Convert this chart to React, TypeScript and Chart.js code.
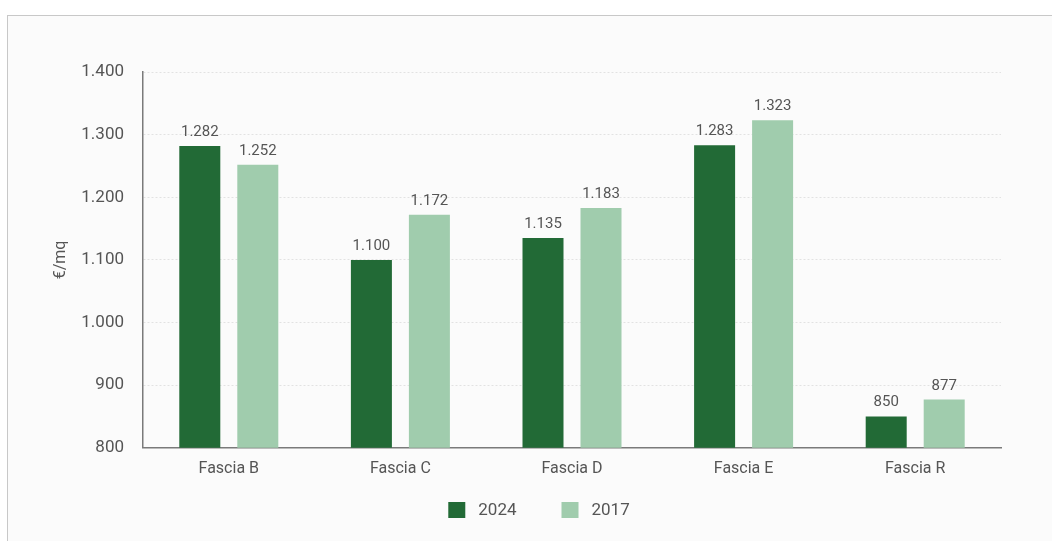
import React, { useEffect, useRef } from "react";
import { Chart, registerables } from "chart.js";

Chart.register(...registerables);

const categories = ["Fascia B", "Fascia C", "Fascia D", "Fascia E", "Fascia R"];
const values2024 = [1282, 1100, 1135, 1283, 850];
const values2017 = [1252, 1172, 1183, 1323, 877];
const seriesLabels = ["2024", "2017"];
const yTicks = [800, 900, 1000, 1100, 1200, 1300, 1400];
const yTitle = "€/mq";

const DARK = "#226a36";
const LIGHT = "#a0ccad";
const TEXT = "#555555";
const FONT = "Roboto, 'Liberation Sans', sans-serif";

const fmt = (v: number) => String(Math.round(v)).replace(/\B(?=(\d{3})+(?!\d))/g, ".");

const valueLabels = {
  id: "valueLabels",
  afterDatasetsDraw(chart: any) {
    const ctx = chart.ctx;
    ctx.save();
    ctx.font = `15px ${FONT}`;
    ctx.fillStyle = TEXT;
    ctx.textAlign = "center";
    ctx.textBaseline = "alphabetic";
    chart.data.datasets.forEach((ds: any, i: number) => {
      const meta = chart.getDatasetMeta(i);
      meta.data.forEach((el: any, j: number) => {
        ctx.fillText(fmt(ds.data[j]), el.x, el.y - 10);
      });
    });
    ctx.restore();
  },
};

const bottomLegend = {
  id: "bottomLegend",
  afterDraw(chart: any) {
    const ctx = chart.ctx;
    ctx.save();
    ctx.font = `17px ${FONT}`;
    ctx.textBaseline = "middle";
    ctx.textAlign = "left";
    const box = 17;
    const gap = 13;
    const spacing = 45;
    const items = chart.data.datasets.map((ds: any) => ({
      label: ds.label,
      color: ds.backgroundColor,
      w: box + gap + ctx.measureText(ds.label).width,
    }));
    const total = items.reduce((a: number, it: any) => a + it.w, 0) + spacing * (items.length - 1);
    let x = chart.width / 2 + 13 - total / 2;
    const cy = 510;
    items.forEach((it: any) => {
      ctx.fillStyle = it.color;
      ctx.fillRect(x, cy - 8, box, 16);
      ctx.fillStyle = TEXT;
      ctx.fillText(it.label, x + box + gap, cy + 1);
      x += it.w + spacing;
    });
    ctx.restore();
  },
};

export default function App() {
  const ref = useRef<HTMLCanvasElement | null>(null);
  useEffect(() => {
    if (!ref.current) return;
    const chart = new Chart(ref.current, {
      type: "bar",
      data: {
        labels: categories,
        datasets: [
          { label: seriesLabels[0], data: values2024, backgroundColor: DARK },
          { label: seriesLabels[1], data: values2017, backgroundColor: LIGHT },
        ],
      },
      options: {
        animation: false,
        responsive: true,
        maintainAspectRatio: false,
        layout: { padding: { top: 72, right: 51, bottom: 50, left: 0 } },
        datasets: {
          bar: { categoryPercentage: 0.676, barPercentage: 0.707 },
        },
        scales: {
          x: {
            grid: { display: false, drawTicks: false },
            border: { display: true, color: "#7a7a7a", width: 1.5 },
            ticks: { color: TEXT, font: { family: FONT, size: 16 }, padding: 12 },
          },
          y: {
            min: 800,
            max: 1400,
            afterBuildTicks: (s: any) => {
              s.ticks = yTicks.map((v) => ({ value: v }));
            },
            afterFit: (s: any) => {
              s.width = 143;
            },
            grid: {
              color: "#e2e2e2",
              drawTicks: false,
              lineWidth: 1,
            },
            border: { display: true, color: "#7a7a7a", width: 1.5, dash: [2, 2] },
            ticks: {
              color: TEXT,
              font: { family: FONT, size: 17 },
              padding: 19,
              callback: (v: any) => fmt(Number(v)),
            },
            title: {
              display: true,
              text: yTitle,
              color: TEXT,
              font: { family: FONT, size: 16 },
              padding: { top: 51, bottom: 0 },
            },
          },
        },
        plugins: {
          legend: { display: false },
          tooltip: { enabled: false },
        },
      },
      plugins: [valueLabels, bottomLegend],
    });
    return () => chart.destroy();
  }, []);

  return (
    <div style={{ position: "fixed", left: 0, top: 0, width: 1052, height: 541, background: "#fff", overflow: "hidden" }}>
      <div
        style={{
          position: "absolute",
          left: 7,
          top: 15,
          width: 1100,
          height: 600,
          borderLeft: "1px solid #c8c8c8",
          borderTop: "1px solid #c8c8c8",
          background: "#fbfbfb",
        }}
      />
      <div style={{ position: "absolute", left: 0, top: 0, width: 1052, height: 541 }}>
        <canvas ref={ref} />
      </div>
    </div>
  );
}
